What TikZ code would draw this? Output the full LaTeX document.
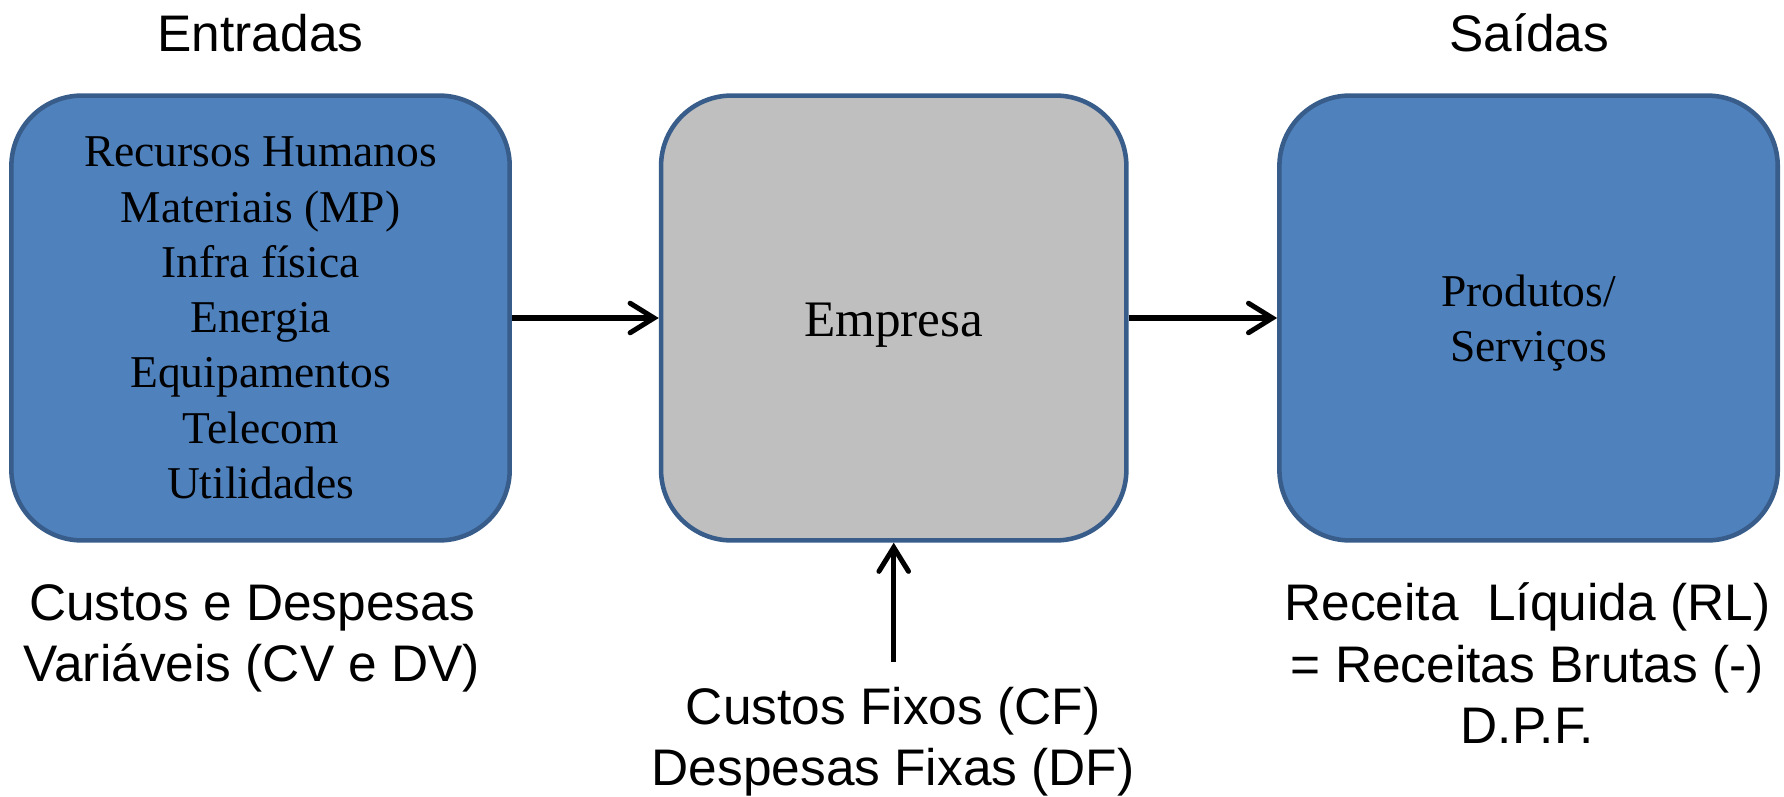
\documentclass[tikz,border=0pt]{standalone}
\usepackage{fontspec}
\setmainfont{Liberation Serif}
\setsansfont{Liberation Sans}
\usetikzlibrary{arrows.meta}
\definecolor{boxblue}{HTML}{4F81BD}
\definecolor{boxedge}{HTML}{385D8A}
\definecolor{boxgray}{HTML}{BFBFBF}
\begin{document}
\begin{tikzpicture}[x=0.5pt,y=-0.5pt,
  blockbox/.style={draw=boxedge, line width=2pt, rounded corners=31pt,
    minimum height=195.5pt, inner sep=0pt, align=center,
    font=\fontsize{20}{24.3}\selectfont},
  bluebox/.style={blockbox, fill=boxblue, minimum width=219pt},
  graybox/.style={blockbox, fill=boxgray, minimum width=204.5pt,
    font=\fontsize{22.5}{27}\selectfont, text height=21pt, text depth=4.5pt},
  boxtext/.style={inner sep=0pt, align=center, font=\fontsize{20}{24.3}\selectfont},
  heading/.style={font=\sffamily\fontsize{22.6}{27}\selectfont, inner sep=0pt},
  caption/.style={heading, align=center},
  flow/.style={line width=2.2pt, -{Straight Barb[length=10.5pt,width=13pt,line cap=round]}}
]
\useasboundingbox (0,0) rectangle (1568,700);

\node[heading, anchor=base] (entradas) at (229,45.5) {Entradas};
\node[heading, anchor=base] (saidas) at (1344,45.5) {Saídas};

\node[bluebox] (inputs) at (229,279.5) {Recursos Humanos\\Materiais (MP)\\Infra física\\Energia\\Equipamentos\\Telecom\\Utilidades};
\node[graybox] (empresa) at (785.5,279.5) {Empresa};
\node[bluebox, label={[boxtext, yshift=-2.25pt]center:{Produtos/\\Serviços}}] (outputs) at (1343.5,279.5) {};

\node[caption] (variaveis) at (221.5,561) {Custos e Despesas\\Variáveis (CV e DV)};
\node[caption] (fixos) at (785,652) {Custos Fixos (CF)\\Despesas Fixas (DF)};
\node[caption] (receita) at (1342.5,583) {Receita\ \ Líquida (RL)\\= Receitas Brutas (-)\\D.P.F.};

\coordinate (fixtop) at (785.5,582);
\draw[flow] (inputs) -- (empresa);
\draw[flow] (empresa) -- (outputs);
\draw[flow] (fixtop) -- (empresa.south);
\end{tikzpicture}
\end{document}
